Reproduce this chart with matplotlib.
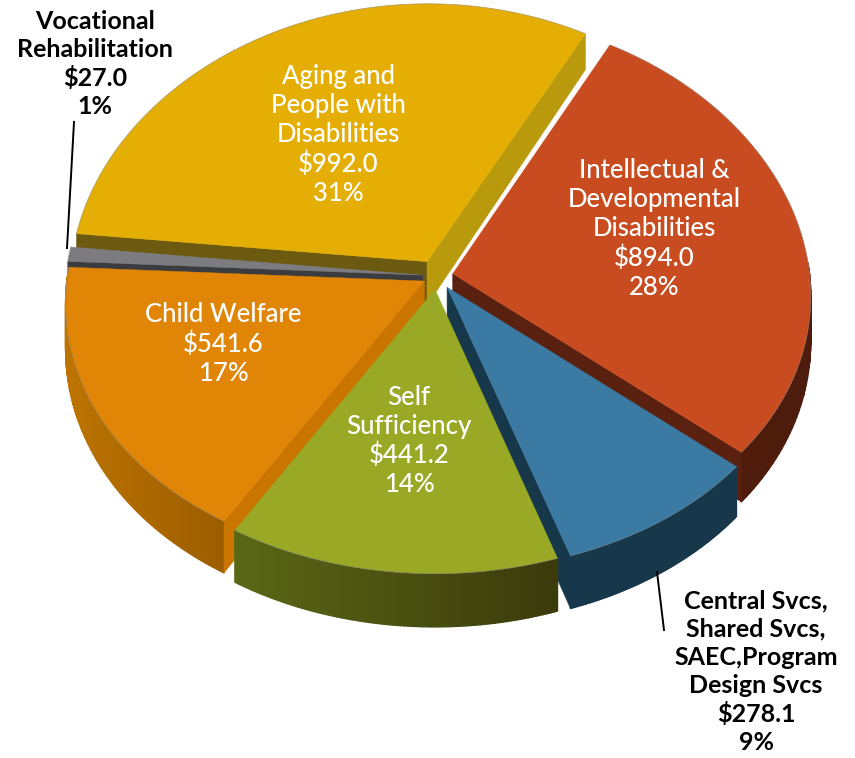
import numpy as np
import matplotlib
matplotlib.use("Agg")
import matplotlib.pyplot as plt
from matplotlib.collections import PolyCollection
from matplotlib.colors import to_rgb

# Budget by program area, in millions of dollars, clockwise from the upper right
categories = ["Intellectual &\nDevelopmental\nDisabilities",
              "Central Svcs,\nShared Svcs,\nSAEC,Program\nDesign Svcs",
              "Self\nSufficiency",
              "Child Welfare",
              "Vocational\nRehabilitation",
              "Aging and\nPeople with\nDisabilities"]
values = [894.0, 278.1, 441.2, 541.6, 27.0, 992.0]

top_colors = ["#C84C20", "#3A7AA3", "#99A825", "#E08505", "#7C7C80", "#E5AE05"]
# Colour of the cut face at the start and at the end of each slice's sweep
start_cut = ["#5E1E0A", "#17374A", "#3F3F0E", "#C97500", "#3A3C40", "#6B5A10"]
end_cut = ["#5A2010", "#17374A", "#3F3F0E", "#C97500", "#3A3C40", "#B99A0C"]
# Outer wall colour at the two ends of each slice's shading ramp
wall_left = ["#5A2010", "#17374A", "#5C6C16", "#BC7300", "#3A3C40", "#6B5A10"]
wall_right = ["#4E1C0C", "#17374A", "#3C3B0C", "#8E5400", "#3A3C40", "#6B5A10"]
explode = [0.045, 0.05, 0.05, 0.04, 0.04, 0.06]
draw_order = [5, 4, 0, 3, 1, 2]

text_colors = ["white", "black", "white", "white", "black", "white"]
label_x = [654, 756, 409, 223, 95, 338]
label_y = [229, 672, 441, 344, 64, 135]

CX, CY = 437.0, 276.0
RX, RY = 357.0, 271.0
PERSP_X = 0.08
PERSP_Y = 0.044
DEPTH = 44.0
START_ANGLE = 61.5


def project(u, v, z=0.0):
    """Map disc coordinates and a drop fraction onto the canvas."""
    u, v, z = np.asarray(u, float), np.asarray(v, float), np.asarray(z, float)
    x = CX + RX * u * (1 - PERSP_X * v)
    y = CY - RY * v * (1 - PERSP_Y * v) + z * DEPTH * (1 - 0.2 * v)
    return x, y


def face(us, vs, zs):
    x, y = project(us, vs, zs)
    return np.column_stack([x, y])


fig = plt.figure(figsize=(8.55, 7.58), dpi=100)
ax = fig.add_axes([0, 0, 1, 1])
ax.set_xlim(0, 855)
ax.set_ylim(758, 0)
ax.axis("off")

total = sum(values)
fractions = [val / total for val in values]
edges = START_ANGLE - 360 * np.cumsum([0] + fractions)

for i in draw_order:
    a0, a1 = np.radians(edges[i]), np.radians(edges[i + 1])
    mid = (a0 + a1) / 2
    ex, ey = explode[i] * np.cos(mid), explode[i] * np.sin(mid)
    t = np.linspace(a0, a1, 90)
    us, vs = ex + np.cos(t), ey + np.sin(t)

    # Outer wall, only where the rim faces the viewer, shaded across its width
    left, right = np.array(to_rgb(wall_left[i])), np.array(to_rgb(wall_right[i]))
    if i == 3:
        frac = np.clip((us + 1.0) / 0.65, 0, 1)
    elif i == 2:
        frac = np.clip((us + 0.6) / 0.9, 0, 1)
    else:
        frac = np.clip((us + 1) / 2, 0, 1)
    quads, cols = [], []
    for k in range(len(t) - 1):
        if np.sin(t[k]) > 0.02 and np.sin(t[k + 1]) > 0.02:
            continue
        quads.append(face([us[k], us[k + 1], us[k + 1], us[k]],
                          [vs[k], vs[k + 1], vs[k + 1], vs[k]], [0, 0, 1, 1]))
        cols.append(tuple(left + (right - left) * frac[k]))
    if quads:
        ax.add_collection(PolyCollection(quads, facecolors=cols, edgecolors=cols,
                                         linewidths=1.0, zorder=2))

    # Cut faces from apex to rim, only those turned towards the viewer
    if np.cos(a0) < 0:
        quad = face([ex, us[0], us[0], ex], [ey, vs[0], vs[0], ey], [0, 0, 1, 1])
        ax.add_patch(plt.Polygon(quad, closed=True, fc=start_cut[i], ec=start_cut[i], lw=0.4, zorder=2))
    if np.cos(a1) > 0:
        quad = face([ex, us[-1], us[-1], ex], [ey, vs[-1], vs[-1], ey], [0, 0, 1, 1])
        ax.add_patch(plt.Polygon(quad, closed=True, fc=end_cut[i], ec=end_cut[i], lw=0.4, zorder=2))

    # Top of the slice, with a fine grey line along the rim
    top_x, top_y = project(np.r_[ex, us], np.r_[ey, vs])
    ax.fill(top_x, top_y, fc=top_colors[i], ec=top_colors[i], lw=0.3, zorder=2)
    rim_x, rim_y = project(us, vs)
    ax.plot(rim_x, rim_y, color="#8A8A8A", lw=0.6, alpha=0.55, zorder=2)

for name, val, frac, x, y, col in zip(categories, values, fractions, label_x, label_y, text_colors):
    dark = col == "black"
    ax.text(x, y, f"{name}\n${val:.1f}\n{round(frac * 100)}%", color=col,
            ha="center", va="center", fontsize=18.0 if dark else 18.5, family="Lato",
            weight="bold" if dark else "medium", linespacing=1.27 if dark else 1.2, zorder=5)

# Leader lines for the labels set outside the pie
ax.plot([74, 67], [122, 248], color="black", lw=1.4, zorder=4)
ax.plot([657, 664], [572, 630], color="black", lw=1.4, zorder=4)

fig.savefig("out.png", dpi=100, facecolor="white")
